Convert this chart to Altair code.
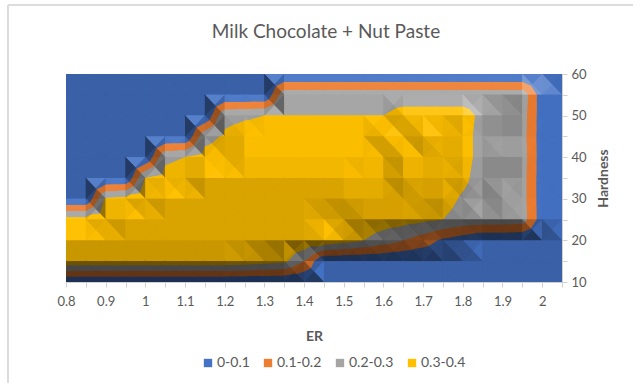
import altair as alt
import pandas as pd
import numpy as np

# ER values along the category axis (grid columns)
er_values = [0.80, 0.85, 0.90, 0.95, 1.00, 1.05, 1.10, 1.15, 1.20, 1.25, 1.30, 1.35, 1.40,
             1.45, 1.50, 1.55, 1.60, 1.65, 1.70, 1.75, 1.80, 1.85, 1.90, 1.95, 2.00, 2.05]
# Hardness levels (grid rows, top to bottom)
hardness_values = [60, 55, 50, 45, 40, 35, 30, 25, 20, 15, 10]

# Surface values, one list per hardness level, one entry per ER value
z_h60 = [0, 0, 0, 0, 0, 0, 0, 0, 0, 0, 0, 0, 0, 0, 0, 0, 0, 0, 0, 0, 0, 0, 0, 0, 0, 0]
z_h55 = [0, 0, 0, 0, 0, 0, 0, 0, 0, 0, 0, .26, .26, .26, .26, .26, .26, .26, .26, .26, .26, .26, .26, .26, .04, 0]
z_h50 = [0, 0, 0, 0, 0, 0, 0, 0, .28, .29, .30, .30, .30, .30, .30, .30, .30, .33, .33, .33, .33, .28, .26, .25, .04, 0]
z_h45 = [0, 0, 0, 0, 0, 0, 0, .27, .31, .33, .33, .33, .33, .33, .33, .33, .35, .34, .36, .34, .33, .27, .25, .24, .04, 0]
z_h40 = [0, 0, 0, 0, 0, .28, .30, .33, .34, .36, .36, .36, .36, .36, .36, .36, .35, .37, .35, .34, .33, .27, .26, .25, .04, 0]
z_h35 = [0, 0, 0, 0, .30, .33, .35, .38, .38, .38, .38, .38, .38, .38, .38, .37, .36, .37, .35, .34, .32, .26, .25, .24, .04, 0]
z_h30 = [0, 0, .31, .33, .36, .38, .38, .38, .38, .38, .38, .38, .38, .38, .38, .37, .36, .35, .34, .33, .29, .25, .26, .24, .04, 0]
z_h25 = [.34, .34, .36, .38, .38, .38, .38, .38, .38, .38, .38, .38, .38, .37, .36, .36, .35, .34, .32, .30, .27, .26, .26, .25, .04, 0]
z_h20 = [.38, .38, .38, .38, .38, .38, .38, .38, .38, .38, .38, .38, .38, .38, .34, .30, .25, .20, .15, .08, .04, 0, 0, 0, 0, 0]
z_h15 = [.37, .37, .37, .37, .37, .37, .37, .37, .37, .36, .34, .32, .20, 0, 0, 0, 0, 0, 0, 0, 0, 0, 0, 0, 0, 0]
z_h10 = [0, 0, 0, 0, 0, 0, 0, 0, 0, 0, 0, 0, 0, 0, 0, 0, 0, 0, 0, 0, 0, 0, 0, 0, 0, 0]

band_labels = ["0-0.1", "0.1-0.2", "0.2-0.3", "0.3-0.4"]
band_edges = [0.1, 0.2, 0.3]
band_colors = ["#4472C4", "#ED7D31", "#A5A5A5", "#FFC000"]

Z = np.array([z_h60, z_h55, z_h50, z_h45, z_h40, z_h35, z_h30, z_h25, z_h20, z_h15, z_h10], dtype=float)

# --- facet shading (top view of a lit 3D surface) ---
Z_EXAG = 20.0


def facet_factor(tri):
    p = np.array([[x / 0.05, h / 5.0, z * Z_EXAG] for x, h, z in tri])
    n = np.cross(p[1] - p[0], p[2] - p[0])
    if n[2] < 0:
        n = -n
    n = n / np.linalg.norm(n)
    return 0.70 + 0.25 * n[0] + 0.30 * n[1] + 0.15 * n[2]


def shaded(hex_color, f):
    rgb = np.array([int(hex_color[i:i + 2], 16) for i in (1, 3, 5)], dtype=float)
    if f <= 1:
        out = rgb * f
    else:
        out = rgb + (255 - rgb) * min(1.0, (f - 1) * 3)
    out = np.clip(np.round(out), 0, 255).astype(int)
    return "#%02x%02x%02x" % tuple(out)


def clip(poly, t, keep_above):
    out = []
    n = len(poly)
    for i in range(n):
        P, Q = poly[i], poly[(i + 1) % n]
        pin = P[2] >= t if keep_above else P[2] <= t
        qin = Q[2] >= t if keep_above else Q[2] <= t
        if pin:
            out.append(P)
        if pin != qin:
            s = (t - P[2]) / (Q[2] - P[2])
            out.append(tuple(P[k] + s * (Q[k] - P[k]) for k in range(3)))
    return out


records = []
pid = 0
for r in range(len(hardness_values) - 1):
    for c in range(len(er_values) - 1):
        TL = (er_values[c], hardness_values[r], Z[r, c])
        TR = (er_values[c + 1], hardness_values[r], Z[r, c + 1])
        BL = (er_values[c], hardness_values[r + 1], Z[r + 1, c])
        BR = (er_values[c + 1], hardness_values[r + 1], Z[r + 1, c + 1])
        C = tuple(np.mean([TL[k], TR[k], BL[k], BR[k]]) for k in range(3))
        for tri in [(TL, TR, C), (TR, BR, C), (BR, BL, C), (BL, TL, C)]:
            f = facet_factor(tri)
            for b in range(4):
                poly = list(tri)
                if b > 0:
                    poly = clip(poly, band_edges[b - 1], True)
                if b < 3 and len(poly) >= 3:
                    poly = clip(poly, band_edges[b], False)
                if len(poly) < 3:
                    continue
                col = shaded(band_colors[b], f)
                # closed outline of this band piece
                for k, (x, h, _) in enumerate(poly + [poly[0]]):
                    records.append({"pid": pid, "k": k, "er": x, "hardness": h, "col": col})
                pid += 1

surface_df = pd.DataFrame(records)

FONT = "Lato"
TEXT = "#595959"
FRAME = "#D9D9D9"

x_axis = alt.Axis(
    values=er_values,
    labelExpr="(round(datum.value*100) % 10 == 0) ? format(datum.value, '.1~f') : ''",
    title="ER", titleFontWeight="bold", titleFontSize=14, titleColor=TEXT, titlePadding=21,
    labelFontSize=13, labelColor=TEXT, labelPadding=8, labelFlush=False,
    tickSize=5, tickColor="#D0D0D0", domainColor="#D0D0D0", grid=False,
)
y_axis = alt.Axis(
    orient="right", values=hardness_values,
    labelExpr="datum.value % 10 == 0 ? datum.label : ''",
    title="Hardness", titleFontWeight="bold", titleFontSize=14, titleColor=TEXT,
    titleAngle=270, titlePadding=24,
    labelFontSize=13, labelColor=TEXT, labelPadding=4, labelFlush=False,
    tickSize=5, tickColor="#D0D0D0", domainColor="#D0D0D0", grid=False,
)

x_enc = alt.X("er:Q", scale=alt.Scale(domain=[0.8, 2.05], nice=False, zero=False), axis=x_axis)
y_enc = alt.Y("hardness:Q", scale=alt.Scale(domain=[10, 60], nice=False, zero=False), axis=y_axis)

base = alt.Chart(surface_df).encode(x=x_enc, y=y_enc, detail="pid:N", order="k:Q")

# outlines underneath close the hairline gaps between neighbouring facets
outlines = base.mark_line(strokeWidth=1.4, strokeJoin="round", clip=True).encode(
    stroke=alt.Stroke("col:N", scale=None)
)
facets = base.mark_line(filled=True, strokeWidth=0).encode(
    fill=alt.Fill("col:N", scale=None)
)

legend_df = pd.DataFrame({"band": band_labels})
legend_layer = alt.Chart(legend_df).mark_square(opacity=0).encode(
    color=alt.Color(
        "band:N",
        scale=alt.Scale(domain=band_labels, range=band_colors),
        legend=alt.Legend(
            orient="none", legendX=135, legendY=282, direction="horizontal", title=None,
            symbolType="square", symbolSize=70, symbolOpacity=1, symbolStrokeWidth=0,
            labelFontSize=14, labelColor=TEXT, labelFont=FONT, labelOffset=2, columnPadding=11,
        ),
    )
)

# chart-area border along the left and top edges
frame_left = alt.Chart(legend_df).mark_rule(color=FRAME, strokeWidth=1).encode(
    x=alt.value(-58), y=alt.value(-69), y2=alt.value(320)
)
frame_top = alt.Chart(legend_df).mark_rule(color=FRAME, strokeWidth=1).encode(
    x=alt.value(-58), x2=alt.value(580), y=alt.value(-69)
)

chart = alt.layer(outlines, facets, legend_layer, frame_left, frame_top).properties(
    width=496, height=208,
    title=alt.TitleParams("Milk Chocolate + Nut Paste", fontSize=19, fontWeight="normal",
                          color=TEXT, font=FONT, anchor="middle", frame="group",
                          dx=12, offset=-37),
    padding={"left": 66, "top": 74, "right": 71, "bottom": 101},
    autosize=alt.AutoSizeParams(type="none"),
).configure(font=FONT).configure_view(stroke="#D6D6D6", strokeWidth=1)

chart.save("out.html", embed_options={"renderer": "svg", "actions": False})
